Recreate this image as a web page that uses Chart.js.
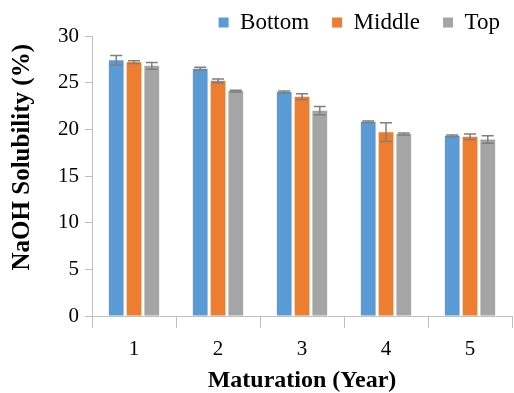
<!DOCTYPE html>
<html>
<head>
<meta charset="utf-8">
<script src="https://cdn.jsdelivr.net/npm/chart.js@4/dist/chart.umd.min.js"></script>
<style>
html,body{margin:0;padding:0;background:#fff;}
#wrap{width:514px;height:393px;}
</style>
</head>
<body>
<div id="wrap"><canvas id="c" width="514" height="393"></canvas></div>
<script>
const categories = ['1', '2', '3', '4', '5'];
const bottomValues = [27.4, 26.5, 24.0, 20.8, 19.3];
const middleValues = [27.2, 25.2, 23.5, 19.7, 19.2];
const topValues = [26.8, 24.1, 22.0, 19.5, 18.9];
const bottomErr = [0.5, 0.15, 0.1, 0.1, 0.1];
const middleErr = [0.15, 0.2, 0.3, 1.0, 0.3];
const topErr = [0.35, 0.1, 0.45, 0.1, 0.4];
const yTicks = [0, 5, 10, 15, 20, 25, 30];

const serif = '"Liberation Serif", "Times New Roman", serif';

const errorBars = {
  id: 'errorBars',
  afterDatasetsDraw(chart) {
    const ctx = chart.ctx;
    const y = chart.scales.y;
    ctx.save();
    ctx.strokeStyle = '#7f7f7f';
    ctx.lineWidth = 1.5;
    chart.data.datasets.forEach((ds, di) => {
      const meta = chart.getDatasetMeta(di);
      meta.data.forEach((bar, i) => {
        const v = ds.data[i], e = ds.errors[i];
        const y1 = y.getPixelForValue(v + e);
        const y2 = y.getPixelForValue(v - e);
        const x = bar.x, hw = 6;
        ctx.beginPath();
        ctx.moveTo(x, y1); ctx.lineTo(x, y2);
        ctx.moveTo(x - hw, y1); ctx.lineTo(x + hw, y1);
        ctx.moveTo(x - hw, y2); ctx.lineTo(x + hw, y2);
        ctx.stroke();
      });
    });
    ctx.restore();
  }
};

const legendShift = {
  id: 'legendShift',
  afterLayout(chart) {
    const l = chart.legend;
    l.top = -12; l.height = 48; l.bottom = 36;
    l.right = 523; l.left = l.right - l.width;
  }
};

new Chart(document.getElementById('c'), {
  type: 'bar',
  data: {
    labels: categories,
    datasets: [
      { label: 'Bottom', data: bottomValues, errors: bottomErr, backgroundColor: '#5B9BD5' },
      { label: 'Middle', data: middleValues, errors: middleErr, backgroundColor: '#ED7D31' },
      { label: 'Top', data: topValues, errors: topErr, backgroundColor: '#A5A5A5' }
    ]
  },
  options: {
    responsive: false,
    animation: false,
    devicePixelRatio: 1,
    categoryPercentage: 0.635,
    barPercentage: 0.83,
    layout: { padding: { top: 0, right: 2, left: 0, bottom: 0 } },
    plugins: {
      tooltip: { enabled: false },
      legend: {
        position: 'top',
        align: 'end',
        maxHeight: 36,
        labels: {
          boxWidth: 10, boxHeight: 10, padding: 23,
          color: '#000',
          font: { family: serif, size: 23 }
        }
      }
    },
    scales: {
      x: {
        grid: { offset: true, drawOnChartArea: false, drawTicks: true, tickLength: 12, color: '#bfbfbf', lineWidth: 1 },
        border: { color: '#bfbfbf', width: 1 },
        ticks: { color: '#000', padding: 9, font: { family: serif, size: 21 } },
        title: { display: true, text: 'Maturation (Year)', color: '#000', padding: { top: 0, bottom: 0 },
                 font: { family: serif, size: 24, weight: 'bold', lineHeight: 1 } },
        afterFit(s) { s.height = 77; }
      },
      y: {
        min: 0, max: 30,
        afterBuildTicks(s) { s.ticks = yTicks.map(v => ({ value: v })); },
        grid: { drawOnChartArea: false, drawTicks: true, tickLength: 7, color: '#bfbfbf' },
        border: { color: '#bfbfbf', width: 1 },
        ticks: { color: '#000', padding: 6, font: { family: serif, size: 21 } },
        title: { display: true, text: '      NaOH Solubility (%)', color: '#000', padding: { top: 10, bottom: 0 },
                 font: { family: serif, size: 25, weight: 'bold', lineHeight: 1 } },
        afterFit(s) { s.width = 92; }
      }
    }
  },
  plugins: [errorBars, legendShift]
});
</script>
</body>
</html>
